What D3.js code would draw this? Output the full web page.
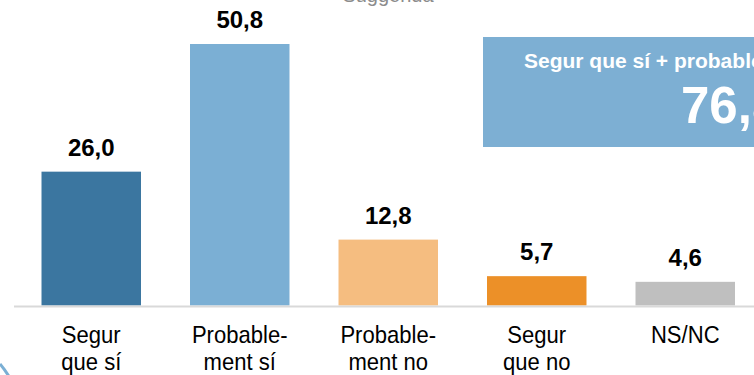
<!DOCTYPE html>
<meta charset="utf-8">
<style>
  body { margin: 0; background: #fff; }
  svg { display: block; font-family: "Liberation Sans", Arial, sans-serif; }
</style>
<svg width="754" height="375"></svg>
<script src="https://cdn.jsdelivr.net/npm/d3@7"></script>
<script>

// data
var categories = ["Segur que sí", "Probable-ment sí", "Probable-ment no", "Segur que no", "NS/NC"],
    labelLines = [["Segur", "que sí"], ["Probable-", "ment sí"], ["Probable-", "ment no"], ["Segur", "que no"], ["NS/NC"]],
    values = [26.0, 50.8, 12.8, 5.7, 4.6],
    colors = ["#3b76a0", "#7bafd4", "#f5bd80", "#ec9028", "#bfbfbf"],
    summaryLabel = "Segur que sí + probablement sí",
    summaryValue = 76.8,
    subtitle = "Suggerida";

var svg = d3.select("svg"),
    baseline = 305.5;

var fmt = function(v) { return d3.format(".1f")(v).replace(".", ","); };

var x = d3.scaleBand()
    .domain(categories)
    .range([17, 759.5])
    .paddingInner(0.33)
    .paddingOuter(0.165);

var y = d3.scaleLinear()
    .domain([0, 50.8])
    .range([baseline, 44]);

// cut-off subtitle at the very top
svg.append("text")
    .attr("x", 388)
    .attr("y", 2)
    .attr("text-anchor", "middle")
    .attr("fill", "#8c8c8c")
    .style("font-size", "20px")
    .text(subtitle);

// summary box (runs off the right edge)
svg.append("rect")
    .attr("x", 483)
    .attr("y", 37)
    .attr("width", 300)
    .attr("height", 110)
    .attr("fill", "#7dafd3");

svg.append("text")
    .attr("x", 524)
    .attr("y", 68)
    .attr("fill", "#fff")
    .style("font-size", "21px")
    .style("font-weight", "bold")
    .text(summaryLabel);

svg.append("text")
    .attr("x", 681)
    .attr("y", 123)
    .attr("fill", "#fff")
    .style("font-size", "51px")
    .style("font-weight", "bold")
    .text(fmt(summaryValue));

// bars
svg.selectAll(".bar")
    .data(values)
    .enter().append("rect")
      .attr("class", "bar")
      .attr("x", function(d, i) { return x(categories[i]); })
      .attr("y", function(d) { return y(d); })
      .attr("width", x.bandwidth())
      .attr("height", function(d) { return baseline - y(d); })
      .attr("fill", function(d, i) { return colors[i]; });

// value labels
svg.selectAll(".val")
    .data(values)
    .enter().append("text")
      .attr("class", "val")
      .attr("x", function(d, i) { return x(categories[i]) + x.bandwidth() / 2; })
      .attr("y", function(d) { return y(d) - 16; })
      .attr("text-anchor", "middle")
      .style("font-size", "24px")
      .style("font-weight", "bold")
      .text(fmt);

// axis line
svg.append("line")
    .attr("x1", 14)
    .attr("x2", 754)
    .attr("y1", baseline + 1)
    .attr("y2", baseline + 1)
    .attr("stroke", "#d9d9d9")
    .attr("stroke-width", 2);

// category labels via bottom axis
var ax = svg.append("g")
    .attr("transform", "translate(0," + (baseline + 1) + ")")
    .call(d3.axisBottom(x).tickSize(0).tickFormat(""));
ax.select(".domain").remove();

ax.selectAll(".tick text").each(function(d, i) {
  var t = d3.select(this)
      .attr("y", 0)
      .attr("dy", null)
      .attr("fill", "#000")
      .attr("transform", "scale(0.92,1)")
      .style("font-size", "24px")
      .style("font-family", "'Liberation Sans', Arial, sans-serif");
  labelLines[i].forEach(function(line, j) {
    t.append("tspan")
        .attr("x", 0)
        .attr("y", 37 + j * 27)
        .text(line);
  });
});

// slide frame corner, bottom left
svg.append("path")
    .attr("d", "M0,364 Q5,370 10,378")
    .attr("fill", "none")
    .attr("stroke", "#7bafd4")
    .attr("stroke-width", 3);

</script>
